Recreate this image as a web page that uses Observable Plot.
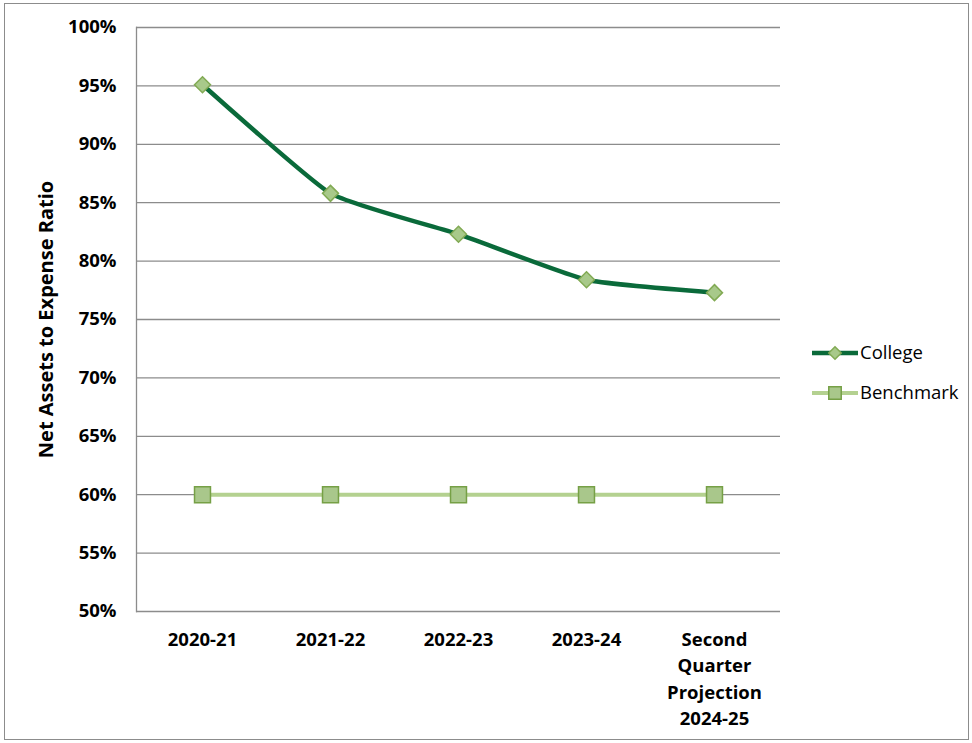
<!DOCTYPE html>
<html>
<head>
<meta charset="utf-8">
<script src="https://cdn.jsdelivr.net/npm/d3@7"></script>
<script src="https://cdn.jsdelivr.net/npm/@observablehq/plot@0.6"></script>
<style>
  html, body { margin: 0; padding: 0; background: #fff; }
  #wrap { position: relative; width: 972px; height: 743px; }
  #border { position: absolute; left: 4px; top: 3px; width: 965px; height: 737px; border: 1px solid #8c8c8c; box-sizing: border-box; pointer-events: none; }
  #chart { position: absolute; left: 0; top: 0; }
</style>
</head>
<body>
<div id="wrap"><div id="chart"></div><div id="border"></div></div>
<script>
const categories = ["2020-21", "2021-22", "2022-23", "2023-24", "Second\nQuarter\nProjection\n2024-25"];
const collegeValues = [95.1, 85.8, 82.3, 78.4, 77.3];
const benchmarkValues = [60, 60, 60, 60, 60];
const seriesNames = ["College", "Benchmark"];
const yTicks = [50, 55, 60, 65, 70, 75, 80, 85, 90, 95, 100];
const yLabel = "Net Assets to Expense Ratio";

const styles = {
  College: {line: "#0a6a3a", width: 4.5, symbol: "diamond2", r: 7.2, fill: "#a8c98a", stroke: "#82aa54"},
  Benchmark: {line: "#b4d190", width: 4, symbol: "square", r: 9, fill: "#a9c78b", stroke: "#76a046"}
};

const rows = [];
[collegeValues, benchmarkValues].forEach((vals, si) => {
  vals.forEach((v, i) => rows.push({cat: categories[i], series: seriesNames[si], value: v}));
});

const font = "'Open Sans', Lato, sans-serif";
const W = 972, H = 743;

const marks = [
  Plot.ruleY(yTicks, {y: d => d, stroke: "#8c8c8c", strokeWidth: 1.3}),
  Plot.frame({anchor: "left", stroke: "#8c8c8c", strokeWidth: 1.3}),
  Plot.axisY(yTicks, {tickSize: 0, tickPadding: 20, tickFormat: d => d + "%", fontSize: 18.5, fontWeight: 700, fill: "#000", label: null}),
  Plot.axisX({tickSize: 0, tickPadding: 16, fontSize: 18.5, fontWeight: 700, fill: "#000", lineHeight: 1.42, label: null}),
  Plot.text([yLabel], {frameAnchor: "left", textAnchor: "middle", dx: -90, rotate: -90, fontSize: 20, fontWeight: 700, fill: "#000", text: d => d})
];
for (const s of seriesNames.slice().reverse()) {
  const st = styles[s];
  const data = rows.filter(d => d.series === s);
  marks.push(Plot.line(data, {x: "cat", y: "value", stroke: st.line, strokeWidth: st.width, curve: s === "College" ? "cardinal" : "linear", tension: 0.55}));
  marks.push(Plot.dot(data, {x: "cat", y: "value", symbol: () => st.symbol, r: st.r, fill: st.fill, stroke: st.stroke, strokeWidth: 1.5, fillOpacity: 1}));
}

const chart = Plot.plot({
  width: W, height: H,
  marginLeft: 136, marginRight: 192, marginTop: 27, marginBottom: 132,
  style: {fontFamily: font, background: "transparent", overflow: "visible"},
  x: {type: "point", domain: categories, padding: 0.5},
  y: {domain: [50, 100]},
  symbol: {domain: ["diamond2", "square"], range: ["diamond2", "square"]},
  marks
});
document.getElementById("chart").appendChild(chart);

// legend
const svg = d3.select(chart);
const lg = svg.append("g").attr("font-family", font).attr("text-anchor", "start");
seriesNames.forEach((s, i) => {
  const st = styles[s];
  const y = 353 + i * 40;
  const g = lg.append("g").attr("transform", `translate(812,${y})`);
  g.append("line").attr("x1", 0).attr("x2", 46).attr("stroke", st.line).attr("stroke-width", st.width);
  const sym = st.symbol === "square" ? d3.symbolSquare : d3.symbolDiamond2;
  const size = Math.PI * (st.r * 0.78) ** 2;
  g.append("path").attr("d", d3.symbol(sym, size)()).attr("transform", "translate(23,0)")
    .attr("fill", st.fill).attr("stroke", st.stroke).attr("stroke-width", 1.5);
  g.append("text").attr("x", 48).attr("dy", "0.35em").attr("font-size", 18.5).attr("text-anchor", "start").attr("fill", "#000").text(s);
});
</script>
</body>
</html>
